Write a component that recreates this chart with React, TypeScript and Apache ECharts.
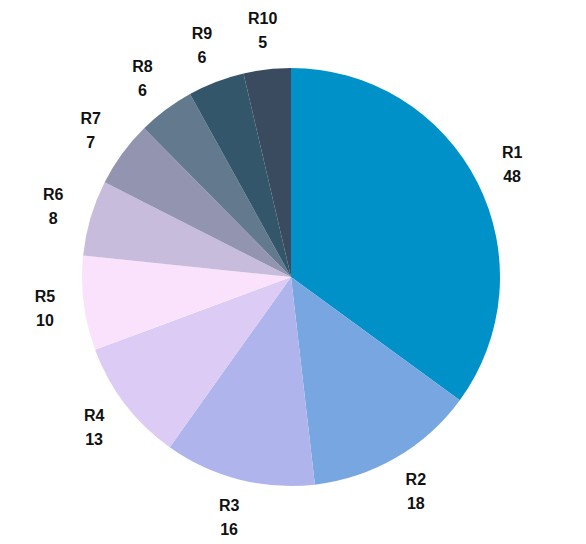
import React, { useEffect, useRef } from "react";
import * as echarts from "echarts";

const categories = ["R1", "R2", "R3", "R4", "R5", "R6", "R7", "R8", "R9", "R10"];
const values = [48, 18, 16, 13, 10, 8, 7, 6, 6, 5];
const colors = [
  "#0091c8",
  "#78a6e0",
  "#b0b4ec",
  "#dccbf4",
  "#fbe2fc",
  "#c8bcdc",
  "#9395b0",
  "#637a8e",
  "#33566a",
  "#3a4b60",
];

export default function App() {
  const ref = useRef<HTMLDivElement>(null);
  useEffect(() => {
    if (!ref.current) return;
    const chart = echarts.init(ref.current, undefined, { renderer: "svg" });
    const data = categories.map((name, i) => ({
      name,
      value: values[i],
      itemStyle: { color: colors[i] },
    }));
    const labelData = categories.map((name, i) => ({
      name,
      value: values[i],
      itemStyle: { color: "rgba(0,0,0,0)" },
    }));
    chart.setOption({
      animation: false,
      series: [
        {
          type: "pie",
          center: [291, 277],
          radius: [0, 209],
          startAngle: 90,
          clockwise: true,
          silent: true,
          label: { show: false },
          labelLine: { show: false },
          itemStyle: { borderWidth: 0 },
          data,
        },
        {
          type: "pie",
          center: [291, 277],
          radius: [209, 281],
          startAngle: 90,
          clockwise: true,
          silent: true,
          label: {
            show: true,
            position: "inside",
            formatter: "{b}\n{c}",
            color: "#111",
            fontFamily: "Liberation Sans, Arial, sans-serif",
            fontWeight: "bold",
            fontSize: 16,
            lineHeight: 24,
            align: "center",
          },
          labelLine: { show: false },
          itemStyle: { borderWidth: 0 },
          data: labelData,
        },
      ],
    });
    return () => chart.dispose();
  }, []);
  return (
    <div
      ref={ref}
      style={{ position: "absolute", left: 0, top: 0, width: 586, height: 544, background: "#fff" }}
    />
  );
}
